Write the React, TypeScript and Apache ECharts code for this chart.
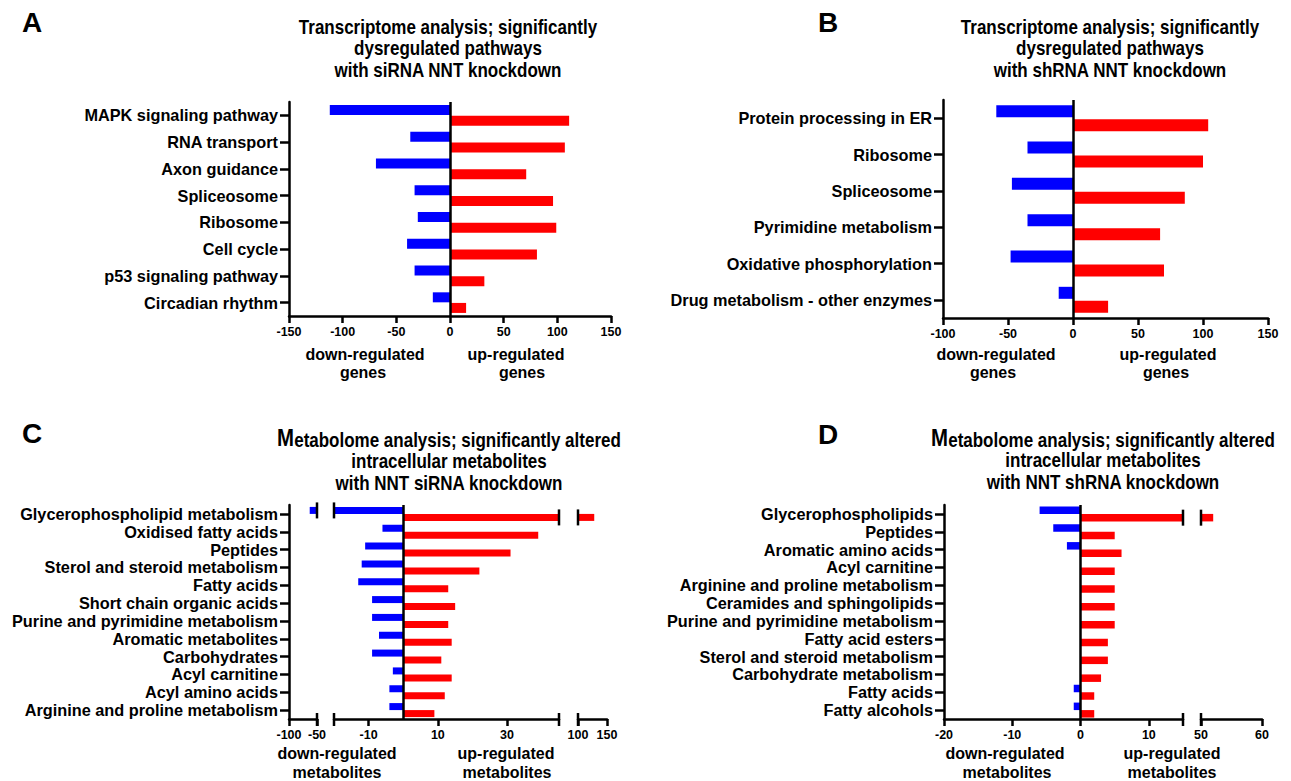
import React, { useEffect, useRef } from "react";
import * as echarts from "echarts";

// ---------- data ----------
const aCats = ["MAPK signaling pathway", "RNA transport", "Axon guidance", "Spliceosome", "Ribosome", "Cell cycle", "p53 signaling pathway", "Circadian rhythm"];
const aDown = [-112, -37, -69, -33, -30, -40, -33, -16];
const aUp = [111, 107, 71, 96, 99, 81, 32, 15];
const aRange = [-150, 150];
const aTicks = [-150, -100, -50, 0, 50, 100, 150];

const bCats = ["Protein processing in ER", "Ribosome", "Spliceosome", "Pyrimidine metabolism", "Oxidative phosphorylation", "Drug metabolism - other enzymes"];
const bDown = [-59, -35, -47, -35, -48, -11];
const bUp = [104, 100, 86, 67, 70, 27];
const bRange = [-100, 150];
const bTicks = [-100, -50, 0, 50, 100, 150];

const cCats = ["Glycerophospholipid metabolism", "Oxidised fatty acids", "Peptides", "Sterol and steroid metabolism", "Fatty acids", "Short chain organic acids", "Purine and pyrimidine metabolism", "Aromatic metabolites", "Carbohydrates", "Acyl carnitine", "Acyl amino acids", "Arginine and proline metabolism"];
const cDown = [-63, -6, -11, -12, -13, -9, -9, -7, -9, -3, -4, -4];
const cUp = [128, 39, 31, 22, 13, 15, 13, 14, 11, 14, 12, 9];
const cLeftRange = [-100, -50];
const cLeftTicks = [-100, -50];
const cMidRange = [-20, 45];
const cMidTicks = [-10, 10, 30];
const cRightRange = [100, 150];
const cRightTicks = [100, 150];

const dCats = ["Glycerophospholipids", "Peptides", "Aromatic amino acids", "Acyl carnitine", "Arginine and proline metabolism", "Ceramides and sphingolipids", "Purine and pyrimidine metabolism", "Fatty acid esters", "Sterol and steroid metabolism", "Carbohydrate metabolism", "Fatty acids", "Fatty alcohols"];
const dDown = [-6, -4, -2, 0, 0, 0, 0, 0, 0, 0, -1, -1];
const dUp = [52, 5, 6, 5, 5, 5, 5, 4, 4, 3, 2, 2];
const dMainRange = [-20, 15];
const dMainTicks = [-20, -10, 0, 10];
const dRightRange = [50, 60];
const dRightTicks = [50, 60];

// ---------- styles / layout ----------
const FONT = "'Liberation Sans', Arial, Helvetica, sans-serif";
const BLUE = "#0000ff";
const RED = "#ff0000";
const AX = { color: "#000", width: 2.5 };

const GRIDS = [
  { left: 289, top: 102, width: 322, height: 214 }, // A
  { left: 943, top: 100, width: 325, height: 218 }, // B
  { left: 289, top: 505, width: 28, height: 214 }, // C left
  { left: 334, top: 505, width: 225, height: 214 }, // C mid
  { left: 578, top: 505, width: 29, height: 214 }, // C right
  { left: 944, top: 505, width: 239, height: 214 }, // D main
  { left: 1201, top: 505, width: 61, height: 214 }, // D right
];
const BW = [10, 12, 7, 7, 7, 7.5, 7.5];
const GAP = [0.06, 0.17, 0, 0, 0, 0, 0];

function xAxisDef(grid: number, range: number[], ticks: number[]) {
  return {
    type: "value",
    gridIndex: grid,
    min: range[0],
    max: range[1],
    position: "bottom",
    axisLine: { show: true, onZero: false, lineStyle: AX },
    axisTick: { show: true, length: 7, lineStyle: AX, customValues: ticks },
    axisLabel: { customValues: ticks, fontFamily: FONT, fontWeight: "bold", fontSize: 12.5, color: "#000", margin: 9 },
    splitLine: { show: false },
  };
}

function yAxisDef(grid: number, cats: string[], show: boolean) {
  return {
    type: "category",
    gridIndex: grid,
    data: cats,
    inverse: true,
    show,
    axisLine: { show: true, onZero: false, lineStyle: AX },
    axisTick: { show: true, alignWithLabel: true, length: 9, lineStyle: AX },
    axisLabel: { interval: 0, fontFamily: FONT, fontWeight: "bold", fontSize: 16.3, color: "#000", margin: 11 },
    splitLine: { show: false },
  };
}

const zeroLine = {
  silent: true,
  symbol: ["none", "none"],
  label: { show: false },
  lineStyle: { color: "#000", width: 2.5, type: "solid" },
  data: [{ xAxis: 0 }],
};

function bars(grid: number, down: (number | null)[], up: (number | null)[], withZero: boolean) {
  const common = {
    type: "bar",
    xAxisIndex: grid,
    yAxisIndex: grid,
    barWidth: BW[grid],
    barGap: GAP[grid] * 100 + "%",
    clip: true,
    silent: true,
  };
  return [
    { ...common, name: "down", data: down, itemStyle: { color: BLUE } },
    { ...common, name: "up", data: up, itemStyle: { color: RED }, ...(withZero ? { markLine: zeroLine } : {}) },
  ];
}

const none = (arr: number[]) => arr.map(() => null);

function buildOption() {
  return {
    animation: false,
    backgroundColor: "#fff",
    grid: GRIDS.map((g) => ({ ...g, outerBoundsMode: "none", containLabel: false })),
    xAxis: [
      xAxisDef(0, aRange, aTicks),
      xAxisDef(1, bRange, bTicks),
      xAxisDef(2, cLeftRange, cLeftTicks),
      xAxisDef(3, cMidRange, cMidTicks),
      xAxisDef(4, cRightRange, cRightTicks),
      xAxisDef(5, dMainRange, dMainTicks),
      xAxisDef(6, dRightRange, dRightTicks),
    ],
    yAxis: [
      yAxisDef(0, aCats, true),
      yAxisDef(1, bCats, true),
      yAxisDef(2, cCats, true),
      yAxisDef(3, cCats, false),
      yAxisDef(4, cCats, false),
      yAxisDef(5, dCats, true),
      yAxisDef(6, dCats, false),
    ],
    series: [
      ...bars(0, aDown, aUp, true),
      ...bars(1, bDown, bUp, true),
      ...bars(2, cDown.map((v) => (v < cLeftRange[1] ? v : null)), none(cUp), false),
      ...bars(3, cDown, cUp, true),
      ...bars(4, none(cDown), cUp.map((v) => (v > cRightRange[0] ? v : null)), false),
      ...bars(5, dDown, dUp, true),
      ...bars(6, none(dDown), dUp.map((v) => (v > dRightRange[0] ? v : null)), false),
    ],
  };
}

function txt(text: string, x: number, y: number, size: number) {
  return {
    type: "text",
    z: 100,
    silent: true,
    style: {
      text,
      x,
      y,
      align: "center",
      verticalAlign: "middle",
      fontFamily: FONT,
      fontWeight: "bold",
      fontSize: size,
      fill: "#000",
    },
  };
}

// condensed bold title line (narrow face emulated by horizontal scaling)
const TSIZE = 20;
const TSCALE = 0.85;
function ttl(text: string, x: number, y: number) {
  return {
    type: "text",
    z: 100,
    silent: true,
    x,
    y,
    scaleX: TSCALE,
    style: {
      text,
      x: 0,
      y: 0,
      align: "center",
      verticalAlign: "middle",
      fontFamily: FONT,
      fontWeight: "bold",
      fontSize: TSIZE,
      fill: "#000",
    },
  };
}

function titleM(rest: string, x: number, y: number) {
  return {
    type: "text",
    z: 100,
    silent: true,
    x,
    y,
    scaleX: TSCALE,
    style: {
      text: "{m|M}{t|" + rest + "}",
      x: 0,
      y: 0,
      align: "center",
      verticalAlign: "middle",
      rich: {
        m: { fontFamily: FONT, fontWeight: "bold", fontSize: 24, fill: "#000", verticalAlign: "bottom" },
        t: { fontFamily: FONT, fontWeight: "bold", fontSize: TSIZE, fill: "#000", verticalAlign: "bottom" },
      },
    },
  };
}

function texts() {
  return [
    txt("A", 32, 22, 28),
    txt("B", 828, 22, 28),
    txt("C", 32, 433, 28),
    txt("D", 828, 434, 28),
    ttl("Transcriptome analysis; significantly", 448, 27),
    ttl("dysregulated pathways", 448, 48),
    ttl("with siRNA NNT knockdown", 448, 70),
    ttl("Transcriptome analysis; significantly", 1110, 27),
    ttl("dysregulated pathways", 1110, 48),
    ttl("with shRNA NNT knockdown", 1110, 70),
    titleM("etabolome analysis; significantly altered", 449, 438),
    ttl("intracellular metabolites", 449, 461),
    ttl("with NNT siRNA knockdown", 449, 483),
    titleM("etabolome analysis; significantly altered", 1103, 438),
    ttl("intracellular metabolites", 1103, 460),
    ttl("with NNT shRNA knockdown", 1103, 482),
    txt("down-regulated", 365, 354, 16),
    txt("genes", 363, 372, 16),
    txt("up-regulated", 516, 354, 16),
    txt("genes", 522, 372, 16),
    txt("down-regulated", 996, 354, 16),
    txt("genes", 993, 372, 16),
    txt("up-regulated", 1168, 354, 16),
    txt("genes", 1166, 372, 16),
    txt("down-regulated", 337, 753, 16),
    txt("metabolites", 337, 772, 16),
    txt("up-regulated", 506, 753, 16),
    txt("metabolites", 507, 772, 16),
    txt("down-regulated", 1005, 753, 16),
    txt("metabolites", 1007, 772, 16),
    txt("up-regulated", 1172, 753, 16),
    txt("metabolites", 1172, 772, 16),
  ];
}

function vline(x: number, y1: number, y2: number) {
  return { type: "line", z: 100, silent: true, shape: { x1: x, y1, x2: x, y2 }, style: { stroke: "#000", lineWidth: 2.5 } };
}

function caps(chart: any) {
  const out: any[] = [];
  const barCap = (grid: number, xVal: number, cat: string, side: number) => {
    const p = chart.convertToPixel({ gridIndex: grid }, [xVal, cat]);
    const off = ((BW[grid] + BW[grid] * GAP[grid]) / 2) * side;
    const cy = p[1] + off;
    out.push(vline(p[0], cy - 8, cy + 8));
  };
  const axisCap = (grid: number, xVal: number, cat: string) => {
    const p = chart.convertToPixel({ gridIndex: grid }, [xVal, cat]);
    const bottom = GRIDS[grid].top + GRIDS[grid].height;
    out.push(vline(p[0], bottom - 6, bottom + 7));
  };
  // panel C breaks
  if (cDown[0] < cLeftRange[1]) {
    barCap(2, cLeftRange[1], cCats[0], -1);
    barCap(3, cMidRange[0], cCats[0], -1);
  }
  if (cUp[0] > cRightRange[0]) {
    barCap(3, cMidRange[1], cCats[0], 1);
    barCap(4, cRightRange[0], cCats[0], 1);
  }
  axisCap(2, cLeftRange[1], cCats[0]);
  axisCap(3, cMidRange[0], cCats[0]);
  axisCap(3, cMidRange[1], cCats[0]);
  axisCap(4, cRightRange[0], cCats[0]);
  // panel D breaks
  if (dUp[0] > dRightRange[0]) {
    barCap(5, dMainRange[1], dCats[0], 1);
    barCap(6, dRightRange[0], dCats[0], 1);
  }
  axisCap(5, dMainRange[1], dCats[0]);
  axisCap(6, dRightRange[0], dCats[0]);
  return out;
}

export default function App() {
  const ref = useRef<HTMLDivElement>(null);
  useEffect(() => {
    if (!ref.current) return;
    const chart = echarts.init(ref.current, null, { renderer: "svg" });
    chart.setOption(buildOption() as any);
    chart.setOption({ graphic: [...texts(), ...caps(chart)] } as any);
    return () => chart.dispose();
  }, []);
  return <div ref={ref} style={{ position: "absolute", left: 0, top: 0, width: 1291, height: 781 }} />;
}
